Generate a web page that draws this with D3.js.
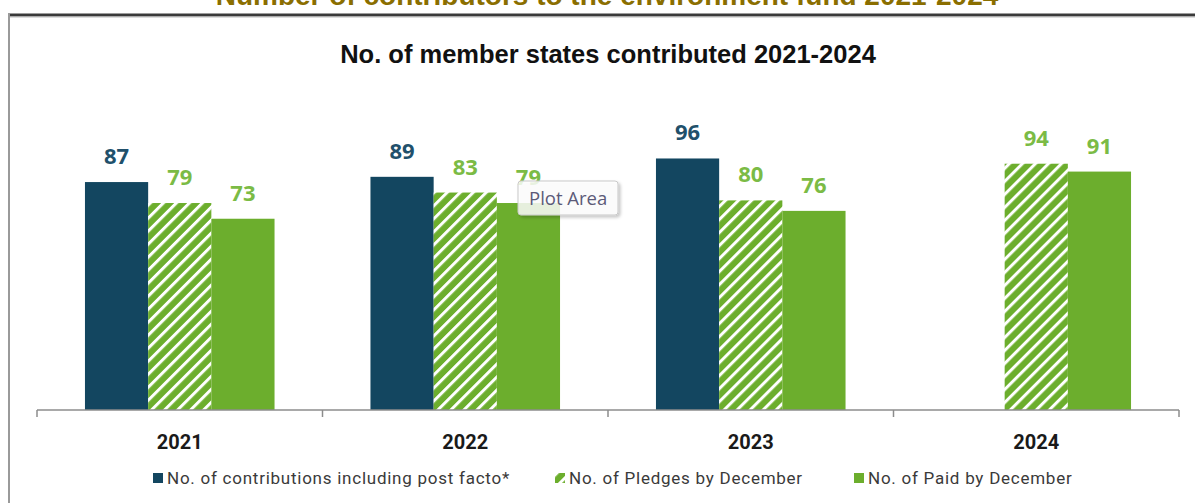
<!DOCTYPE html>
<html>
<head>
<meta charset="utf-8">
<script src="https://cdn.jsdelivr.net/npm/d3@7"></script>
<style>
  html, body { margin: 0; padding: 0; background: #fff; }
  svg { display: block; }
</style>
</head>
<body>
<svg id="chart" width="1195" height="503"></svg>
<script>
// ---- data ----
const years = ["2021", "2022", "2023", "2024"];
const seriesNames = [
  "No. of contributions including post facto*",
  "No. of Pledges by December",
  "No. of Paid by December"
];
const contributions = [87, 89, 96, null];
const pledges = [79, 83, 80, 94];
const paid = [73, 79, 76, 91];
const outerTitle = "Number of contributors to the environment fund 2021-2024";
const chartTitle = "No. of member states contributed 2021-2024";

const seriesValues = [contributions, pledges, paid];
const seriesKeys = ["contrib", "pledge", "paid"];

// ---- styling ----
const DARK = "#134660";
const GREEN = "#6cae2d";
const DARK_LABEL = "#21506b";
const GREEN_LABEL = "#7bbb45";

const svg = d3.select("#chart");
const defs = svg.append("defs");

const pat = defs.append("pattern")
  .attr("id", "hatch")
  .attr("patternUnits", "userSpaceOnUse")
  .attr("width", 9.2).attr("height", 9.2)
  .attr("patternTransform", "rotate(45)");
pat.append("rect").attr("width", 9.2).attr("height", 9.2).attr("fill", GREEN);
pat.append("rect").attr("x", 0).attr("width", 3).attr("height", 9.2).attr("fill", "#fff");

const shadow = defs.append("filter").attr("id", "shadow")
  .attr("x", "-20%").attr("y", "-20%").attr("width", "150%").attr("height", "160%");
shadow.append("feDropShadow").attr("dx", 2).attr("dy", 2).attr("stdDeviation", 1.5)
  .attr("flood-color", "#000").attr("flood-opacity", 0.25);

const fills = { contrib: DARK, pledge: "url(#hatch)", paid: GREEN };
const labelColors = { contrib: DARK_LABEL, pledge: GREEN_LABEL, paid: GREEN_LABEL };

// outer title (cut off at the top, as in the source)
svg.append("text")
  .attr("x", 607).attr("y", 5)
  .attr("text-anchor", "middle")
  .attr("font-family", "Liberation Sans, Arial, sans-serif")
  .attr("font-weight", "bold").attr("font-size", 28)
  .attr("fill", "#8a6e00")
  .text(outerTitle);

// frame
svg.append("line").attr("x1", 8).attr("x2", 1195).attr("y1", 15).attr("y2", 15)
  .attr("stroke", "#3a3a3a").attr("stroke-width", 3);
svg.append("line").attr("x1", 8).attr("x2", 1195).attr("y1", 17).attr("y2", 17)
  .attr("stroke", "#bbb").attr("stroke-width", 1);
svg.append("line").attr("x1", 9).attr("x2", 9).attr("y1", 14).attr("y2", 503)
  .attr("stroke", "#9a9a9a").attr("stroke-width", 2);

// chart title
svg.append("text")
  .attr("x", 608).attr("y", 63)
  .attr("text-anchor", "middle")
  .attr("font-family", "Liberation Sans, Arial, sans-serif")
  .attr("font-weight", "bold").attr("font-size", 25.5)
  .attr("fill", "#111")
  .text(chartTitle);

// scales
const x0 = d3.scaleBand().domain(years).range([37, 1179]).padding(0);
const bw = x0.bandwidth();
const x1 = d3.scaleBand().domain(seriesKeys).range([bw * 0.168, bw * (1 - 0.168)]).padding(0);
const y = d3.scaleLinear().domain([0, 100]).range([410, 148]);

// bars
seriesKeys.forEach((k, si) => {
  const data = years.map((yr, i) => ({ yr, v: seriesValues[si][i] })).filter(d => d.v != null);
  svg.append("g").selectAll("rect").data(data).enter().append("rect")
    .attr("x", d => x0(d.yr) + x1(k))
    .attr("width", x1.bandwidth())
    .attr("y", d => y(d.v))
    .attr("height", d => y(0) - y(d.v))
    .attr("fill", fills[k]);
  svg.append("g").selectAll("text").data(data).enter().append("text")
    .attr("x", d => x0(d.yr) + x1(k) + x1.bandwidth() / 2)
    .attr("y", d => y(d.v) - 18)
    .attr("text-anchor", "middle")
    .attr("font-family", "Open Sans, sans-serif")
    .attr("font-weight", "bold").attr("font-size", 22)
    .attr("fill", labelColors[k])
    .text(d => d.v);
});

// axis
const axisG = svg.append("g").attr("transform", `translate(0,${y(0)})`);
axisG.append("line").attr("x1", 37).attr("x2", 1179).attr("y1", 0).attr("y2", 0)
  .attr("stroke", "#8c8c8c").attr("stroke-width", 1.5);
const tickPos = years.map(d => x0(d)).concat([x0.range()[1]]);
axisG.selectAll("line.tick").data(tickPos).enter().append("line")
  .attr("class", "tick")
  .attr("x1", d => d).attr("x2", d => d).attr("y1", 0).attr("y2", 7)
  .attr("stroke", "#8c8c8c").attr("stroke-width", 1.5);
const xAxis = d3.axisBottom(x0).tickSize(0).tickPadding(0);
const labG = svg.append("g").attr("transform", "translate(0,435)").call(xAxis);
labG.select(".domain").remove();
labG.selectAll("text")
  .attr("font-family", "Roboto, sans-serif")
  .attr("font-weight", "bold").attr("font-size", 20)
  .attr("fill", "#1a1a1a")
  .attr("dy", "0.71em");

// legend
const legendItems = [
  { name: seriesNames[0], key: "contrib", x: 153 },
  { name: seriesNames[1], key: "pledge", x: 555 },
  { name: seriesNames[2], key: "paid", x: 854 }
];
const lg = svg.append("g");
legendItems.forEach(it => {
  lg.append("rect").attr("x", it.x).attr("y", 473).attr("width", 10).attr("height", 10)
    .attr("fill", fills[it.key]);
  lg.append("text").attr("x", it.x + 14).attr("y", 484)
    .attr("font-family", "Roboto, sans-serif").attr("font-size", 17)
    .attr("letter-spacing", 0.75)
    .attr("fill", "#3a3a3a")
    .text(it.name);
});

// tooltip "Plot Area"
const tip = svg.append("g");
tip.append("rect").attr("x", 518).attr("y", 181).attr("width", 100).attr("height", 34)
  .attr("rx", 3).attr("fill", "rgba(255,255,255,0.82)")
  .attr("stroke", "#c9c9c9").attr("filter", "url(#shadow)");
tip.append("text").attr("x", 529).attr("y", 205)
  .attr("font-family", "Open Sans, sans-serif").attr("font-size", 18.5)
  .attr("fill", "#5c5a78")
  .text("Plot Area");
</script>
</body>
</html>
